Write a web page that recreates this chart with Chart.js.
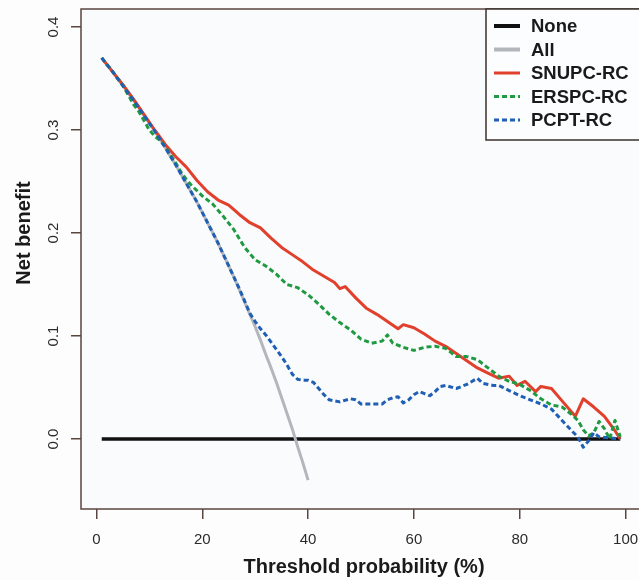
<!DOCTYPE html>
<html>
<head>
<meta charset="utf-8">
<script src="https://cdn.jsdelivr.net/npm/chart.js@4.4.1/dist/chart.umd.min.js"></script>
<style>
  html, body { margin: 0; padding: 0; background: #fdfdfe; overflow: hidden; }
  #wrap { width: 642px; height: 580px; }
</style>
</head>
<body>
<div id="wrap"><canvas id="dcaChart" width="642" height="580"></canvas></div>
<script>
// Decision curve data (threshold %, net benefit)
const xTicks = [0, 20, 40, 60, 80, 100];
const yTicks = [0.0, 0.1, 0.2, 0.3, 0.4];

const noneX = [1, 99];
const noneY = [0, 0];

const allX = [1, 2, 3, 4, 5, 6, 7, 8, 9, 10, 11, 12, 13, 14, 15, 16, 17, 18, 19, 20,
  21, 22, 23, 24, 25, 26, 27, 28, 29, 30, 31, 32, 33, 34, 35, 36, 37, 38, 39, 40];
const allY = [0.370, 0.363, 0.357, 0.350, 0.343, 0.336, 0.329, 0.322, 0.314, 0.307,
  0.299, 0.291, 0.283, 0.274, 0.266, 0.257, 0.248, 0.239, 0.230, 0.220,
  0.210, 0.200, 0.190, 0.179, 0.168, 0.157, 0.145, 0.133, 0.121, 0.109,
  0.096, 0.082, 0.069, 0.055, 0.040, 0.025, 0.010, -0.007, -0.023, -0.040];

const snupcX = [1, 3, 5, 7, 9, 11, 13, 15, 17, 19, 21, 23, 25, 27, 29, 31, 33, 35, 37, 39,
  41, 43, 45, 46, 47, 49, 51, 53, 55, 57, 58, 60, 62, 64, 66, 68, 70, 72, 74, 76,
  78, 79.5, 81, 83, 84, 86, 88, 90.5, 92, 94, 96, 98, 99];
const snupcY = [0.370, 0.357, 0.344, 0.330, 0.315, 0.300, 0.286, 0.274, 0.264, 0.251,
  0.240, 0.232, 0.227, 0.218, 0.210, 0.205, 0.195, 0.186, 0.179, 0.172,
  0.164, 0.158, 0.152, 0.146, 0.148, 0.137, 0.127, 0.121, 0.114, 0.107,
  0.111, 0.108, 0.102, 0.095, 0.090, 0.083, 0.076, 0.069, 0.064, 0.059,
  0.061, 0.052, 0.056, 0.046, 0.051, 0.049, 0.037, 0.022, 0.039, 0.031,
  0.022, 0.008, 0.000];

const erspcX = [1, 3, 5, 7, 8, 9, 10, 11, 12, 13, 14, 15, 16, 17, 18, 20, 22, 24, 26, 28,
  30, 32, 34, 36, 38, 40, 42, 44, 46, 48, 50, 52, 54, 55, 56, 58, 60, 62, 64, 66,
  68, 70, 72, 74, 76, 78, 80, 82, 84, 86, 88, 90, 91, 92, 93, 94, 95, 96, 97, 98, 99];
const erspcY = [0.370, 0.357, 0.343, 0.325, 0.318, 0.309, 0.300, 0.294, 0.290, 0.284,
  0.276, 0.268, 0.259, 0.252, 0.246, 0.236, 0.228, 0.216, 0.203, 0.186,
  0.174, 0.168, 0.160, 0.150, 0.147, 0.140, 0.131, 0.121, 0.113, 0.106,
  0.097, 0.093, 0.095, 0.101, 0.093, 0.089, 0.086, 0.089, 0.090, 0.088,
  0.080, 0.080, 0.077, 0.069, 0.061, 0.056, 0.053, 0.047, 0.039, 0.033,
  0.031, 0.023, 0.018, 0.009, 0.003, 0.006, 0.017, 0.010, 0.000, 0.018, 0.002];

const pcptX = [1, 3, 5, 7, 9, 11, 13, 15, 17, 19, 21, 23, 25, 27, 29, 30, 31, 32, 33, 35,
  36, 37, 38, 39, 40, 41, 42, 43, 44, 46, 48, 49, 50, 52, 54, 55, 56, 57, 58, 59,
  60, 61, 62, 63, 64, 65, 66, 68, 70, 72, 73, 75, 76, 78, 80, 82, 84, 86, 88, 90,
  91, 92, 93, 94, 95, 97, 99];
const pcptY = [0.370, 0.357, 0.343, 0.329, 0.314, 0.299, 0.283, 0.266, 0.248, 0.230,
  0.210, 0.190, 0.168, 0.146, 0.122, 0.114, 0.107, 0.101, 0.094, 0.080,
  0.072, 0.063, 0.058, 0.057, 0.057, 0.055, 0.049, 0.043, 0.038, 0.036,
  0.039, 0.038, 0.034, 0.034, 0.034, 0.038, 0.040, 0.041, 0.035, 0.038,
  0.043, 0.046, 0.044, 0.042, 0.046, 0.051, 0.052, 0.049, 0.053, 0.059,
  0.054, 0.052, 0.052, 0.047, 0.042, 0.038, 0.034, 0.029, 0.018, 0.007,
  0.002, -0.008, -0.002, 0.006, 0.002, 0.001, 0.000];

const axisColor = "#5a463f";
const textColor = "#2b2b2b";

function pts(xs, ys) {
  return xs.map((x, i) => ({ x: x, y: ys[i] }));
}

// box, rotated y labels, axis titles and legend
const decorPlugin = {
  id: "decor",
  beforeDraw(chart) {
    const a = chart.chartArea;
    const ctx = chart.ctx;
    ctx.save();
    ctx.fillStyle = "#fafbfd";
    ctx.fillRect(a.left, a.top, a.right - a.left, a.bottom - a.top);
    ctx.restore();
  },
  afterDraw(chart) {
    const a = chart.chartArea;
    const ctx = chart.ctx;
    const y = chart.scales.y;
    ctx.save();
    ctx.strokeStyle = axisColor;
    ctx.lineWidth = 1.5;
    ctx.strokeRect(a.left, a.top, a.right - a.left, a.bottom - a.top);

    // y tick labels, rotated like base R
    ctx.fillStyle = textColor;
    ctx.font = "15px 'Liberation Sans', Arial, sans-serif";
    ctx.textAlign = "center";
    ctx.textBaseline = "middle";
    y.ticks.forEach(t => {
      ctx.save();
      ctx.translate(54, y.getPixelForValue(t.value));
      ctx.rotate(-Math.PI / 2);
      ctx.fillText(t.value.toFixed(1), 0, 0);
      ctx.restore();
    });

    // axis titles
    ctx.fillStyle = "#1a1a1a";
    ctx.font = "bold 20px 'Liberation Sans', Arial, sans-serif";
    ctx.fillText("Threshold probability (%)", 364, 567);
    ctx.save();
    ctx.translate(24, 233);
    ctx.rotate(-Math.PI / 2);
    ctx.fillText("Net benefit", 0, 0);
    ctx.restore();

    // legend
    const lx = 486, ly = 9, lh = 131;
    ctx.fillStyle = "#fcfdfe";
    ctx.fillRect(lx, ly, a.right - lx, lh);
    ctx.strokeStyle = "#3a302c";
    ctx.lineWidth = 1.5;
    ctx.strokeRect(lx, ly, a.right - lx, lh);
    const rows = [26, 49.5, 73, 96.5, 120];
    chart.data.datasets.forEach((ds, i) => {
      const ry = rows[i];
      ctx.beginPath();
      ctx.setLineDash(ds.borderDash || []);
      ctx.strokeStyle = ds.borderColor;
      ctx.lineWidth = i < 2 ? 4 : 3;
      ctx.moveTo(494, ry);
      ctx.lineTo(520, ry);
      ctx.stroke();
      ctx.setLineDash([]);
      ctx.fillStyle = "#1a1a1a";
      ctx.font = "bold 18.5px 'Liberation Sans', Arial, sans-serif";
      ctx.textAlign = "left";
      ctx.fillText(ds.label, 531, ry + 1);
    });
    ctx.restore();
  }
};

const ctx = document.getElementById("dcaChart").getContext("2d");

const dcaChart = new Chart(ctx, {
  type: "line",
  data: {
    datasets: [
      { label: "None", data: pts(noneX, noneY), borderColor: "#111111", borderWidth: 3.5, order: 5 },
      { label: "All", data: pts(allX, allY), borderColor: "#b3b7bc", borderWidth: 3, order: 4 },
      { label: "SNUPC-RC", data: pts(snupcX, snupcY), borderColor: "#e0402c", borderWidth: 3, order: 3 },
      { label: "ERSPC-RC", data: pts(erspcX, erspcY), borderColor: "#1f9a40", borderWidth: 3, borderDash: [5, 3], order: 2 },
      { label: "PCPT-RC", data: pts(pcptX, pcptY), borderColor: "#1f5fb4", borderWidth: 3, borderDash: [5, 3], order: 1 }
    ]
  },
  options: {
    responsive: false,
    animation: false,
    devicePixelRatio: 1,
    layout: { padding: { top: 9, right: 1, left: 0, bottom: 0 } },
    elements: {
      point: { radius: 0 },
      line: { tension: 0, borderJoinStyle: "round", borderCapStyle: "butt" }
    },
    scales: {
      x: {
        type: "linear",
        min: -2.92,
        max: 102.92,
        afterBuildTicks: s => { s.ticks = xTicks.map(v => ({ value: v })); },
        afterFit: s => { s.height = 71; s.paddingLeft = 0; s.paddingRight = 0; },
        border: { display: false },
        grid: { drawOnChartArea: false, drawTicks: true, tickLength: 10, color: axisColor, lineWidth: 1.5 },
        ticks: { color: textColor, font: { size: 15, family: "'Liberation Sans', Arial, sans-serif" }, padding: 12, maxRotation: 0 }
      },
      y: {
        type: "linear",
        min: -0.068,
        max: 0.4175,
        afterBuildTicks: s => { s.ticks = yTicks.map(v => ({ value: v })); },
        afterFit: s => { s.width = 81; s.paddingTop = 0; s.paddingBottom = 0; },
        border: { display: false },
        grid: { drawOnChartArea: false, drawTicks: true, tickLength: 10, color: axisColor, lineWidth: 1.5 },
        ticks: { color: "rgba(0,0,0,0)", font: { size: 15 } }
      }
    },
    plugins: {
      legend: { display: false },
      tooltip: { enabled: false }
    }
  },
  plugins: [decorPlugin]
});
</script>
</body>
</html>
